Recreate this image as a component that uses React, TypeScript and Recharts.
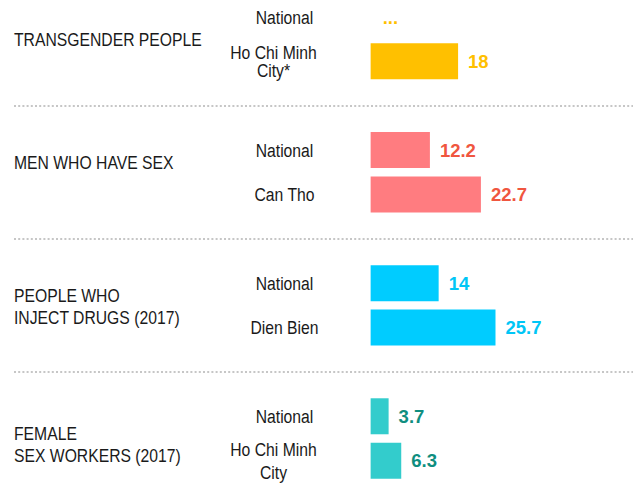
import React from 'react';
import { BarChart, Bar, XAxis, YAxis, Cell, LabelList, ReferenceLine, ReferenceArea, ReferenceDot } from 'recharts';

// ---- data ----
const groupLabels = ['TRANSGENDER PEOPLE', 'MEN WHO HAVE SEX', 'PEOPLE WHO\nINJECT DRUGS (2017)', 'FEMALE\nSEX WORKERS (2017)'];
const nationalLabels = ['National', 'National', 'National', 'National'];
const nationalValues: (number | null)[] = [null, 12.2, 14, 3.7];
const regionLabels = ['Ho Chi Minh\nCity*', 'Can Tho', 'Dien Bien', 'Ho Chi Minh\nCity'];
const regionValues: (number | null)[] = [18, 22.7, 25.7, 6.3];
const missingText = '...';

// ---- styles ----
const barColors = ['#FFC000', '#FF7C80', '#00CCFF', '#33CCCC'];
const valueColors = ['#FFC000', '#F0563F', '#00C6F6', '#0F8E80'];
const regionLineGap = [17.5, 0, 0, 23];
const groupLabelDy = [0, -10, 1, 6];
const baseFont = '"Liberation Sans", Arial, sans-serif';
const NARROW = 0.85;
const TOP_PAD = 12;
const BOTTOM_PAD = 20;

type Row = { key: string; label: string; value: number | null; group: number };

const rows: Row[] = [];
groupLabels.forEach((_, g) => {
  rows.push({ key: `g${g}-nat`, label: nationalLabels[g], value: nationalValues[g], group: g });
  rows.push({ key: `g${g}-reg`, label: regionLabels[g], value: regionValues[g], group: g });
  if (g < groupLabels.length - 1) {
    rows.push({ key: `gap${g}`, label: '', value: null, group: -1 });
  }
});

const gapKeys = rows.filter((r) => r.group < 0).map((r) => r.key);
const missingRows = rows.filter((r) => r.group >= 0 && r.value == null);

// narrow text (Arial Narrow look) via horizontal scaling around an anchor x
const NarrowText = ({ x, y, anchor, lines, gap }: { x: number; y: number; anchor: 'start' | 'middle'; lines: string[]; gap: number }) => (
  <g transform={`translate(${x},0) scale(${NARROW},1)`}>
    <text x={0} y={y} textAnchor={anchor} fontFamily={baseFont} fontSize={18.5} fill="#1a1a1a">
      {lines.map((ln, i) => (
        <tspan key={i} x={0} y={y + (i - (lines.length - 1) / 2) * gap} dy="0.36em">
          {ln}
        </tspan>
      ))}
    </text>
  </g>
);

const RegionTick = (props: any) => {
  const { y, payload } = props;
  const row = rows.find((r) => r.key === payload.value);
  if (!row || !row.label) return null;
  const lines = row.label.split('\n');
  const cx = lines.length === 1 ? 284.5 : 273.5;
  return <NarrowText x={cx} y={y} anchor="middle" lines={lines} gap={regionLineGap[row.group] || 20} />;
};

const makeGroupLabel = (g: number) => (props: any) => {
  const vb = props.viewBox || props;
  const cy = vb.y + vb.height / 2 + groupLabelDy[g];
  return <NarrowText x={vb.x} y={cy} anchor="start" lines={groupLabels[g].split('\n')} gap={22} />;
};

const ValueLabel = (props: any) => {
  const vb = props.viewBox || props;
  const { value } = props;
  const row = rows.find((r) => r.key === value);
  if (!row || row.group < 0 || row.value == null) return null;
  const x = vb.x + (vb.width || 0) + 10;
  const y = vb.y + (vb.height || 0) / 2;
  return (
    <text x={x} y={y} dy="0.36em" fontFamily={baseFont} fontWeight="bold" fontSize={18.5} fill={valueColors[row.group]}>
      {String(row.value)}
    </text>
  );
};

const makeMissingLabel = (row: Row) => (props: any) => {
  const vb = props.viewBox || props;
  const cx = vb.cx != null ? vb.cx : vb.x + (vb.width || 0) / 2;
  const cy = vb.cy != null ? vb.cy : vb.y + (vb.height || 0) / 2;
  return (
    <text x={cx + 12} y={cy} dy="0.36em" fontFamily={baseFont} fontWeight="bold" fontSize={18.5} fill={valueColors[row.group]}>
      {missingText}
    </text>
  );
};

export default function App() {
  return (
    <div style={{ position: 'fixed', left: 0, top: 0, width: 633, height: 483, overflow: 'hidden', background: '#fff' }}>
      <div style={{ position: 'absolute', left: 0, top: -5 - TOP_PAD }}>
        <BarChart
          width={633}
          height={488 + TOP_PAD + BOTTOM_PAD}
          data={rows}
          layout="vertical"
          margin={{ top: TOP_PAD, right: 0, bottom: BOTTOM_PAD, left: 0 }}
          barCategoryGap={0}
        >
          <XAxis type="number" hide domain={[-73.4, 54]} allowDataOverflow />
          <YAxis
            type="category"
            dataKey="key"
            width={14}
            axisLine={false}
            tickLine={false}
            tick={RegionTick}
            interval={0}
          />
          {groupLabels.map((_, g) => (
            <ReferenceArea
              key={`area${g}`}
              y1={`g${g}-nat`}
              y2={`g${g}-reg`}
              ifOverflow="visible"
              fill="none"
              fillOpacity={0}
              stroke="none"
              label={makeGroupLabel(g)}
            />
          ))}
          {gapKeys.map((k) => (
            <ReferenceLine key={k} y={k} stroke="#c6c6c6" strokeWidth={2} strokeDasharray="2 2.2" />
          ))}
          <Bar dataKey="value" barSize={36} isAnimationActive={false}>
            {rows.map((r, i) => (
              <Cell key={i} fill={r.group >= 0 ? barColors[r.group] : 'none'} />
            ))}
            <LabelList dataKey="key" content={ValueLabel} />
          </Bar>
          {missingRows.map((r) => (
            <ReferenceDot
              key={`miss-${r.key}`}
              x={0}
              y={r.key}
              r={0}
              ifOverflow="visible"
              fill="none"
              stroke="none"
              label={makeMissingLabel(r)}
            />
          ))}
        </BarChart>
      </div>
    </div>
  );
}
